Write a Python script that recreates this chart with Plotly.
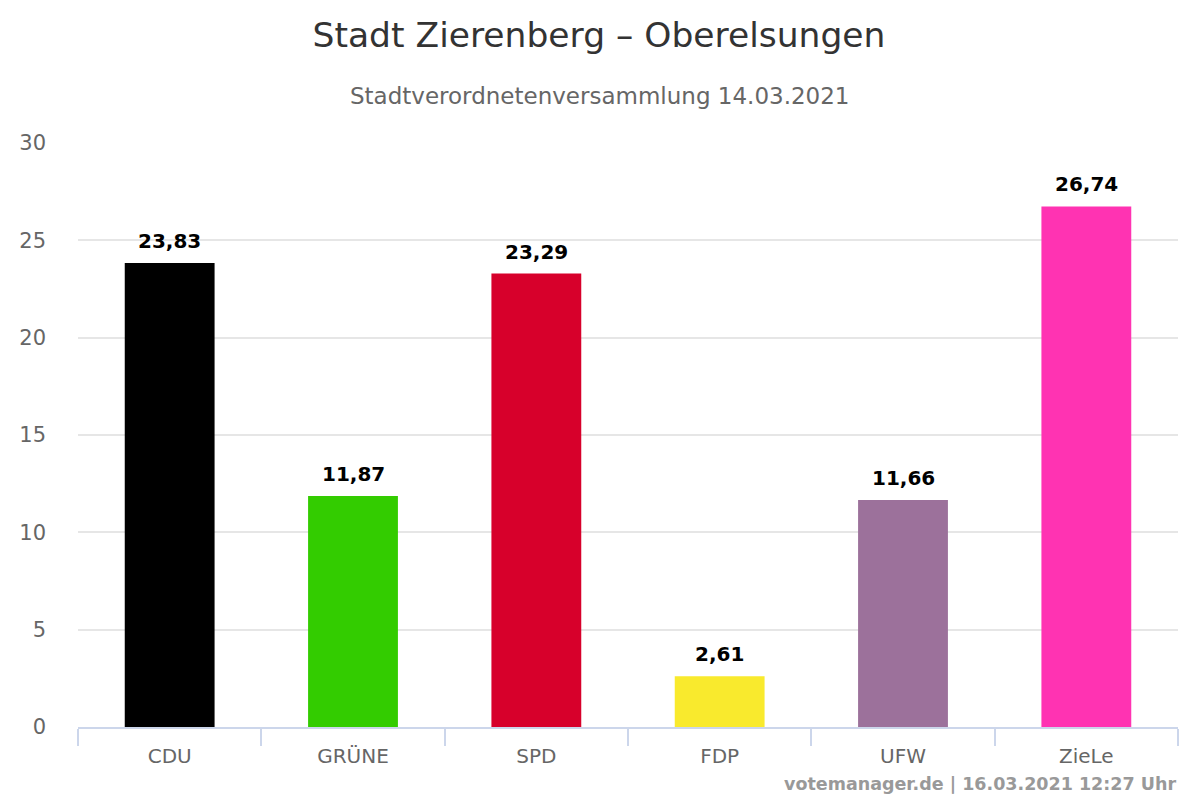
import plotly.graph_objects as go

parties = ["CDU", "GRÜNE", "SPD", "FDP", "UFW", "ZieLe"]
values = [23.83, 11.87, 23.29, 2.61, 11.66, 26.74]
colors = ["#000000", "#33cc00", "#d7002b", "#f9ea2d", "#9c719b", "#ff33b2"]
yticks = [0, 5, 10, 15, 20, 25, 30]

labels = [f"{v:.2f}".replace(".", ",") for v in values]

fig = go.Figure(go.Bar(
    x=parties, y=values, marker=dict(color=colors, line=dict(width=0)),
    width=0.49, hoverinfo="skip",
))

for p, v, t in zip(parties, values, labels):
    fig.add_annotation(x=p, y=v, text=f"<b>{t}</b>", showarrow=False,
                       xanchor="center", yanchor="bottom", yshift=8,
                       font=dict(family="DejaVu Sans", size=20, color="#000000"))

fig.update_layout(
    width=1200, height=800,
    paper_bgcolor="white", plot_bgcolor="white",
    margin=dict(l=70, r=30, t=135, b=81, autoexpand=False),
    font=dict(family="DejaVu Sans", color="#666666"),
    title=dict(text="Stadt Zierenberg – Oberelsungen", x=(599 - 8) / 1200, xanchor="center",
               y=1 - 27 / 800, yanchor="middle",
               font=dict(family="DejaVu Sans", size=34.5, color="#333333")),
    showlegend=False,
)
fig.add_annotation(text="Stadtverordnetenversammlung 14.03.2021", xref="paper", yref="paper",
                   x=(600 - 78) / 1100, y=(800 - 81 - 88) / 584, xanchor="center", yanchor="middle",
                   showarrow=False, font=dict(family="DejaVu Sans", size=23, color="#666666"))
fig.add_annotation(text="<b>votemanager.de | 16.03.2021 12:27 Uhr</b>", xref="paper", yref="paper",
                   x=1.0, y=(800 - 81 - 776) / 584, xanchor="right", yanchor="middle",
                   showarrow=False, font=dict(family="DejaVu Sans", size=17.5, color="#999999"))

fig.update_xaxes(type="category", range=[-0.5, 5.5], showgrid=False,
                 showline=True, linecolor="#ccd6eb", linewidth=2,
                 ticks="outside", tickson="boundaries", ticklen=17, tickcolor="#ccd6eb", tickwidth=2,
                 ticklabelstandoff=10,
                 tickfont=dict(family="DejaVu Sans", size=20, color="#666666"))
fig.update_yaxes(range=[0, 30], tickvals=yticks, showgrid=True, gridcolor="#e6e6e6", gridwidth=1.5,
                 zeroline=False, showline=False, ticks="", ticklabelstandoff=31,
                 tickfont=dict(family="DejaVu Sans", size=21, color="#666666"))

fig.write_html("out.html")
